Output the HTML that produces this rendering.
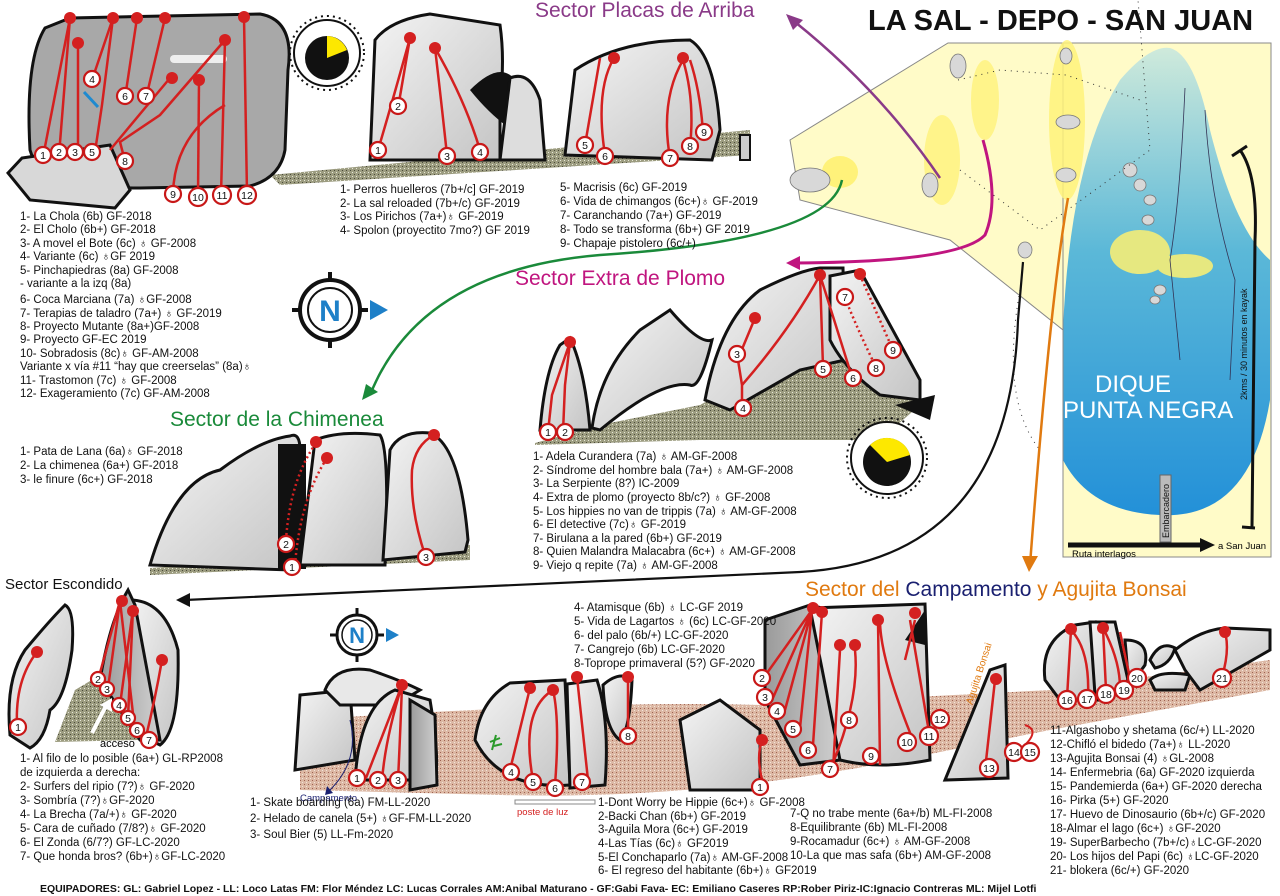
<!DOCTYPE html>
<html><head><meta charset="utf-8"><style>
html,body{margin:0;padding:0;background:#fff}
svg{display:block}
text{font-family:"Liberation Sans",sans-serif}
.t{font-size:11.5px;fill:#111}
.n{font-size:10.5px;fill:#111;text-anchor:middle}
.rt{fill:none;stroke:#d42020;stroke-width:2.5}
.dt{fill:none;stroke:#d42020;stroke-width:2.5;stroke-dasharray:2 3}
.rk{fill:url(#g);stroke:#111;stroke-width:3}
.rd{fill:url(#g2);stroke:#111;stroke-width:3}
.nc{fill:#fff;stroke:#c81818;stroke-width:2.2}
.dot{fill:#d42020}
</style></head><body>
<svg width="1280" height="896" viewBox="0 0 1280 896" xmlns="http://www.w3.org/2000/svg">
<defs>
<linearGradient id="g" x1="0" y1="0" x2="1" y2="1"><stop offset="0" stop-color="#f4f4f4"/><stop offset="1" stop-color="#c4c4c4"/></linearGradient>
<linearGradient id="g2" x1="0" y1="0" x2="1" y2="0"><stop offset="0" stop-color="#9a9a9a"/><stop offset="1" stop-color="#d0d0d0"/></linearGradient>
<linearGradient id="lake" x1="0" y1="0" x2="0" y2="1"><stop offset="0" stop-color="#cfeadb"/><stop offset="0.4" stop-color="#5bb8d8"/><stop offset="1" stop-color="#1a8ad8"/></linearGradient>
<pattern id="gr" width="4" height="4" patternUnits="userSpaceOnUse"><rect width="4" height="4" fill="#9c9c80"/><rect width="1" height="1" fill="#e8e8d8"/><rect x="2" y="2" width="1" height="1" fill="#4a4a3a"/></pattern>
<pattern id="br" width="4" height="4" patternUnits="userSpaceOnUse"><rect width="4" height="4" fill="#dcb8a4"/><rect width="1" height="1" fill="#a06050"/><rect x="2" y="2" width="1" height="1" fill="#f4e4dc"/></pattern>
</defs>

<!-- MAP -->
<polygon points="790,140 948,43 1271,43 1271,557 1063,557 1063,330 950,240 800,200" fill="#fffbc8" stroke="#888" stroke-width="1"/>
<path d="M1063,557 L1063,330 Q1070,160 1120,80 Q1150,45 1170,48 Q1195,55 1210,130 Q1235,230 1270,260 L1270,400 Q1250,520 1160,515 Q1090,512 1063,460 Z" fill="url(#lake)"/>
<rect x="1063" y="43" width="208" height="514" fill="none" stroke="#888"/>
<ellipse cx="1067" cy="120" rx="18" ry="80" fill="#fff27a" opacity="0.85"/>
<ellipse cx="942" cy="160" rx="18" ry="45" fill="#fff27a" opacity="0.8"/>
<ellipse cx="985" cy="100" rx="14" ry="40" fill="#fff27a" opacity="0.8"/>
<ellipse cx="840" cy="172" rx="18" ry="16" fill="#fff27a"/>
<ellipse cx="1140" cy="252" rx="30" ry="22" fill="#e6e880"/>
<ellipse cx="1185" cy="266" rx="28" ry="12" fill="#e6e880"/>
<g fill="#d8d8d8" stroke="#777" stroke-width="0.8">
<ellipse cx="958" cy="66" rx="8" ry="12"/><ellipse cx="1066" cy="56" rx="6" ry="8"/><ellipse cx="1068" cy="122" rx="12" ry="7"/><ellipse cx="1066" cy="175" rx="10" ry="7"/><ellipse cx="1025" cy="250" rx="7" ry="8"/>
<ellipse cx="1130" cy="170" rx="7" ry="7"/><ellipse cx="1140" cy="185" rx="6" ry="6"/><ellipse cx="1150" cy="200" rx="6" ry="5"/><ellipse cx="1148" cy="220" rx="6" ry="5"/><ellipse cx="1160" cy="290" rx="6" ry="5"/><ellipse cx="1155" cy="300" rx="5" ry="4"/><ellipse cx="810" cy="180" rx="20" ry="12"/><ellipse cx="930" cy="185" rx="8" ry="12"/>
</g>
<path d="M1020,290 Q1000,400 1040,450" fill="none" stroke="#333" stroke-dasharray="1 5"/>
<polyline points="958,80 1000,70 1066,75 1140,100" fill="none" stroke="#333" stroke-dasharray="1 5"/>
<polyline points="960,170 1000,200 1040,230 1150,150 1138,0" fill="none" stroke="#333" stroke-dasharray="1 5"/>
<path d="M1185,88 Q1180,200 1170,260 L1180,360" fill="none" stroke="#335" stroke-width="0.8"/>
<path d="M1205,110 Q1210,200 1235,280 L1230,380" fill="none" stroke="#335" stroke-width="0.8"/>
<text x="1095" y="392" style="font-size:24px;fill:#fff">DIQUE</text>
<text x="1063" y="418" style="font-size:24px;fill:#fff">PUNTA NEGRA</text>
<text transform="translate(1247,400) rotate(-90)" style="font-size:9px;fill:#111">2kms / 30 minutos en kayak</text>
<path d="M1240,150 Q1258,175 1255,240 L1252,527" fill="none" stroke="#111" stroke-width="3"/>
<line x1="1232" y1="156" x2="1247" y2="146" stroke="#111" stroke-width="3"/>
<line x1="1242" y1="527" x2="1255" y2="528" stroke="#111" stroke-width="3"/>
<rect x="1160" y="475" width="11" height="67" fill="#bbb" stroke="#666"/>
<text transform="translate(1169,538) rotate(-90)" style="font-size:9px;fill:#111">Embarcadero</text>
<line x1="1068" y1="545" x2="1205" y2="545" stroke="#111" stroke-width="5"/>
<polygon points="1200,538 1215,545 1200,552" fill="#111"/>
<text x="1218" y="549" style="font-size:9.5px">a San Juan</text>
<text x="1072" y="557" style="font-size:9.5px">Ruta interlagos</text>

<text x="868" y="30" style="font-size:29px;font-weight:bold;fill:#111;letter-spacing:0px">LA SAL - DEPO - SAN JUAN</text>
<text x="535" y="17" style="font-size:21px;fill:#8a3a88">Sector Placas de Arriba</text>
<text x="515" y="285" style="font-size:21px;fill:#c0157f">Sector Extra de Plomo</text>
<text x="170" y="426" style="font-size:21px;fill:#1a8a3a">Sector de la Chimenea</text>
<text x="5" y="589" style="font-size:15px;fill:#111">Sector Escondido</text>
<text x="805" y="596" style="font-size:21px;fill:#e07a10">Sector del <tspan fill="#1a2070">Campamento</tspan> y Agujita Bonsai</text>

<!-- connector arrows -->
<path d="M940,178 Q880,90 795,22" fill="none" stroke="#8a3a88" stroke-width="2.5"/><polygon points="786,14 803,20 793,30" fill="#8a3a88"/>
<path d="M842,180 Q830,240 600,255 Q420,270 370,395" fill="none" stroke="#1a8a3a" stroke-width="2.5"/><polygon points="362,400 366,384 378,392" fill="#1a8a3a"/>
<path d="M983,140 Q1000,200 985,235 Q960,262 795,263" fill="none" stroke="#c0157f" stroke-width="3"/><polygon points="786,263 800,256 800,270" fill="#c0157f"/>
<path d="M1023,262 L1018,320 Q1010,560 800,572 Q400,590 185,600" fill="none" stroke="#111" stroke-width="2.2"/><polygon points="176,600 190,593 190,607" fill="#111"/>
<path d="M1068,198 Q1050,300 1030,565" fill="none" stroke="#e07a10" stroke-width="2.5"/><polygon points="1022,556 1038,556 1029,572" fill="#e07a10"/>

<!-- TOP LEFT rock -->
<polygon points="270,175 750,130 750,155 280,185" fill="url(#gr)"/>
<path class="rk" d="M45,28 L70,18 L260,14 Q295,20 288,70 L285,150 Q280,178 250,186 L140,188 Q40,188 30,150 Q25,60 45,28Z" style="fill:#a8a8a8"/>
<polygon class="rk" points="8,173 22,158 110,145 130,190 115,208 30,200" style="fill:#d8d8d8"/>
<rect x="170" y="55" width="57" height="8" rx="4" fill="#eee"/>
<g class="rt"><path d="M43,157 L70,18"/><path d="M59,155 L70,18"/><path d="M78,155 L78,43"/><path d="M95,152 L102,105 L113,18"/><path d="M92,80 L113,18"/><path d="M125,98 L137,18"/><path d="M146,98 L165,18"/><path d="M110,150 L170,78"/><path d="M125,161 L120,142 L160,115 L225,40"/><path d="M173,193 Q175,135 225,105"/><path d="M198,196 L199,80"/><path d="M221,195 L225,40"/><path d="M247,194 L244,17"/></g>
<g class="dot"><circle cx="70" cy="18" r="6"/><circle cx="78" cy="43" r="6"/><circle cx="113" cy="18" r="6"/><circle cx="137" cy="18" r="6"/><circle cx="165" cy="18" r="6"/><circle cx="172" cy="78" r="6"/><circle cx="199" cy="80" r="6"/><circle cx="225" cy="40" r="6"/><circle cx="244" cy="17" r="6"/></g>
<line x1="98" y1="107" x2="84" y2="92" stroke="#1e8ad0" stroke-width="3"/>
<g><circle class="nc" cx="43" cy="155" r="8"/><text class="n" x="43" y="159">1</text>
<circle class="nc" cx="59" cy="152" r="8"/><text class="n" x="59" y="156">2</text>
<circle class="nc" cx="75" cy="152" r="8"/><text class="n" x="75" y="156">3</text>
<circle class="nc" cx="92" cy="79" r="8"/><text class="n" x="92" y="83">4</text>
<circle class="nc" cx="92" cy="152" r="8"/><text class="n" x="92" y="156">5</text>
<circle class="nc" cx="125" cy="96" r="8"/><text class="n" x="125" y="100">6</text>
<circle class="nc" cx="146" cy="96" r="8"/><text class="n" x="146" y="100">7</text>
<circle class="nc" cx="125" cy="161" r="8"/><text class="n" x="125" y="165">8</text>
<circle class="nc" cx="173" cy="194" r="8"/><text class="n" x="173" y="198">9</text>
<circle class="nc" cx="198" cy="197" r="9"/><text class="n" x="198" y="201">10</text>
<circle class="nc" cx="222" cy="195" r="9"/><text class="n" x="222" y="199">11</text>
<circle class="nc" cx="247" cy="195" r="9"/><text class="n" x="247" y="199">12</text></g>

<!-- clock 1 -->
<circle cx="327" cy="53" r="37" fill="none" stroke="#111" stroke-width="2" stroke-dasharray="2 4"/>
<circle cx="327" cy="53" r="33" fill="#fff" stroke="#111" stroke-width="2"/>
<circle cx="327" cy="58" r="22" fill="#111"/>
<path d="M327,58 L327,36 A22,22 0 0,1 347,50 Z" fill="#fde800"/>

<!-- top middle rocks -->
<path class="rk" d="M370,160 L375,40 Q390,20 430,14 L500,25 Q505,60 500,100 L500,160 Z"/>
<path d="M470,90 Q500,60 515,80 L512,130 Q490,115 470,90Z" fill="#111"/>
<path class="rk" d="M500,160 L510,78 Q530,70 540,100 L545,160Z" style="fill:#ddd"/>
<path class="rk" d="M565,155 L575,70 Q620,40 690,40 Q715,55 720,130 L712,160 Z"/>
<rect x="740" y="135" width="10" height="25" fill="#ccc" stroke="#111" stroke-width="2"/>
<g class="rt"><path d="M378,150 Q390,110 410,38"/><path d="M398,108 L410,38"/><path d="M447,155 Q440,90 435,48"/><path d="M480,150 Q465,100 435,48"/><path d="M585,145 L600,58"/><path d="M605,155 Q595,90 614,58"/><path d="M670,158 Q660,100 683,60"/><path d="M690,147 Q695,100 683,60"/><path d="M703,132 Q700,90 690,60"/></g>
<g class="dot"><circle cx="410" cy="38" r="6"/><circle cx="435" cy="48" r="6"/><circle cx="614" cy="58" r="6"/><circle cx="683" cy="58" r="6"/></g>
<circle class="nc" cx="378" cy="150" r="8"/><text class="n" x="378" y="154">1</text>
<circle class="nc" cx="398" cy="106" r="8"/><text class="n" x="398" y="110">2</text>
<circle class="nc" cx="447" cy="156" r="8"/><text class="n" x="447" y="160">3</text>
<circle class="nc" cx="480" cy="152" r="8"/><text class="n" x="480" y="156">4</text>
<circle class="nc" cx="585" cy="145" r="8"/><text class="n" x="585" y="149">5</text>
<circle class="nc" cx="605" cy="156" r="8"/><text class="n" x="605" y="160">6</text>
<circle class="nc" cx="670" cy="158" r="8"/><text class="n" x="670" y="162">7</text>
<circle class="nc" cx="690" cy="146" r="8"/><text class="n" x="690" y="150">8</text>
<circle class="nc" cx="704" cy="132" r="8"/><text class="n" x="704" y="136">9</text>

<!-- top texts -->
<g class="t">
<text x="20" y="220">1- La Chola (6b) GF-2018</text>
<text x="20" y="233">2- El Cholo (6b+) GF-2018</text>
<text x="20" y="247">3- A movel el Bote (6c) ♁    GF-2008</text>
<text x="20" y="260">4- Variante (6c) ♁GF 2019</text>
<text x="20" y="274">5- Pinchapiedras (8a) GF-2008</text>
<text x="20" y="287">-    variante a la izq (8a)</text>
<text x="20" y="303">6- Coca Marciana (7a) ♁GF-2008</text>
<text x="20" y="317">7- Terapias de taladro (7a+) ♁ GF-2019</text>
<text x="20" y="330">8- Proyecto Mutante (8a+)GF-2008</text>
<text x="20" y="343">9- Proyecto GF-EC 2019</text>
<text x="20" y="357">10- Sobradosis (8c)♁    GF-AM-2008</text>
<text x="20" y="370">Variante x vía #11 “hay que creerselas” (8a)♁</text>
<text x="20" y="384">11- Trastomon (7c) ♁    GF-2008</text>
<text x="20" y="397">12- Exageramiento (7c) GF-AM-2008</text>
<text x="340" y="193">1- Perros huelleros (7b+/c] GF-2019</text>
<text x="340" y="207">2- La sal reloaded (7b+/c) GF-2019</text>
<text x="340" y="220">3- Los Pirichos (7a+)♁ GF-2019</text>
<text x="340" y="234">4- Spolon (proyectito 7mo?) GF 2019</text>
<text x="560" y="191">5- Macrisis (6c) GF-2019</text>
<text x="560" y="205">6- Vida de chimangos (6c+)♁ GF-2019</text>
<text x="560" y="219">7- Caranchando (7a+) GF-2019</text>
<text x="560" y="233">8- Todo se transforma  (6b+) GF 2019</text>
<text x="560" y="247">9- Chapaje pistolero (6c/+)</text>
<text x="20" y="455">1- Pata de Lana (6a)♁ GF-2018</text>
<text x="20" y="469">2- La chimenea (6a+) GF-2018</text>
<text x="20" y="483">3- le finure (6c+) GF-2018</text>
</g>

<!-- compass -->
<g transform="translate(330,310)">
<line x1="-38" y1="0" x2="38" y2="0" stroke="#111" stroke-width="4"/><line x1="0" y1="-38" x2="0" y2="38" stroke="#111" stroke-width="4"/>
<circle r="30" fill="#fff" stroke="#111" stroke-width="4"/><circle r="22" fill="#fff" stroke="#111" stroke-width="2"/>
<text x="0" y="11" style="font-size:30px;font-weight:bold;fill:#1e80c8;text-anchor:middle">N</text>
<polygon points="40,-10 58,0 40,10" fill="#1e80c8"/></g>

<!-- Chimenea rock -->
<polygon points="150,568 470,545 470,560 150,575" fill="url(#gr)"/>
<path class="rk" d="M150,565 Q175,480 220,470 Q260,440 290,436 Q300,432 300,450 L290,570Z" />
<rect x="278" y="444" width="28" height="125" fill="#111"/>
<path class="rk" d="M300,565 L315,440 Q340,430 380,435 Q390,450 385,565Z"/>
<path class="rk" d="M383,560 L390,450 Q400,430 430,433 Q460,445 468,540 L465,552Z"/>
<g class="dt"><path d="M286,540 Q290,480 316,443"/><path d="M295,565 Q300,500 327,458"/></g>
<path class="rt" d="M425,555 Q410,510 412,470 Q415,445 434,435"/>
<g class="dot"><circle cx="316" cy="442" r="6"/><circle cx="327" cy="458" r="6"/><circle cx="434" cy="435" r="6"/></g>
<circle class="nc" cx="286" cy="544" r="8"/><text class="n" x="286" y="548">2</text>
<circle class="nc" cx="292" cy="567" r="8"/><text class="n" x="292" y="571">1</text>
<circle class="nc" cx="426" cy="557" r="8"/><text class="n" x="426" y="561">3</text>

<!-- Extra de plomo -->
<polygon points="535,443 600,425 700,405 800,350 880,355 920,405 880,440 700,440 535,445" fill="url(#gr)"/>
<path class="rk" d="M540,430 Q545,370 560,345 L570,338 Q585,370 590,430Z"/>
<path class="rk" d="M592,428 Q600,370 640,330 L670,310 Q700,345 712,340 Q700,390 690,385 Q660,380 600,430Z"/>
<path class="rk" d="M705,400 Q720,320 760,290 Q800,270 820,268 L843,268 L845,360 L800,370 L730,410Z"/>
<path class="rk" d="M830,276 L860,270 L920,380 L920,400 L880,395 Q845,370 830,340Z"/>
<path d="M895,405 L935,395 L930,420 Z" fill="#111"/>
<g class="rt"><path d="M548,432 L552,395 L570,342"/><path d="M563,432 L565,385 L570,342"/><path d="M740,354 L755,318"/><path d="M742,407 L742,385 L738,360"/><path d="M742,385 Q790,330 820,275"/><path d="M823,367 L820,275"/><path d="M852,377 L820,275"/></g>
<g class="dt"><path d="M845,298 Q860,335 876,367"/><path d="M860,275 L893,350"/></g>
<g class="dot"><circle cx="570" cy="342" r="6"/><circle cx="755" cy="318" r="6"/><circle cx="820" cy="275" r="6"/><circle cx="860" cy="274" r="6"/></g>
<circle class="nc" cx="548" cy="432" r="8"/><text class="n" x="548" y="436">1</text>
<circle class="nc" cx="565" cy="432" r="8"/><text class="n" x="565" y="436">2</text>
<circle class="nc" cx="737" cy="354" r="8"/><text class="n" x="737" y="358">3</text>
<circle class="nc" cx="743" cy="408" r="8"/><text class="n" x="743" y="412">4</text>
<circle class="nc" cx="823" cy="369" r="8"/><text class="n" x="823" y="373">5</text>
<circle class="nc" cx="853" cy="378" r="8"/><text class="n" x="853" y="382">6</text>
<circle class="nc" cx="845" cy="297" r="8"/><text class="n" x="845" y="301">7</text>
<circle class="nc" cx="876" cy="368" r="8"/><text class="n" x="876" y="372">8</text>
<circle class="nc" cx="893" cy="350" r="8"/><text class="n" x="893" y="354">9</text>

<!-- clock 2 -->
<circle cx="887" cy="458" r="40" fill="none" stroke="#111" stroke-width="2" stroke-dasharray="2 4"/>
<circle cx="887" cy="458" r="36" fill="#fff" stroke="#111" stroke-width="2"/>
<circle cx="887" cy="462" r="24" fill="#111"/>
<path d="M887,462 L870,445 A24,24 0 0,1 910,455 Z" fill="#fde800"/>

<g class="t">
<text x="533" y="460">1- Adela Curandera (7a) ♁     AM-GF-2008</text>
<text x="533" y="474">2- Síndrome del hombre bala (7a+) ♁     AM-GF-2008</text>
<text x="533" y="487">3- La Serpiente (8?) IC-2009</text>
<text x="533" y="501">4- Extra de plomo (proyecto 8b/c?) ♁     GF-2008</text>
<text x="533" y="515">5- Los hippies no van de trippis (7a) ♁     AM-GF-2008</text>
<text x="533" y="528">6- El detective (7c)♁ GF-2019</text>
<text x="533" y="542">7- Birulana a la pared (6b+) GF-2019</text>
<text x="533" y="555">8- Quien Malandra Malacabra (6c+) ♁     AM-GF-2008</text>
<text x="533" y="569">9- Viejo q repite (7a) ♁     AM-GF-2008</text>
</g>

<!-- Escondido -->
<path class="rk" d="M10,735 Q5,680 25,650 Q50,620 65,605 Q75,610 72,650 Q65,700 50,710 Q45,740 30,748Z"/>
<path class="rk" d="M130,600 Q165,600 178,650 Q180,730 160,745 L150,740 L130,620Z"/>
<path d="M55,742 L75,690 L100,675 L140,740 Z" fill="url(#gr)"/>
<path class="rd" d="M100,680 Q110,620 128,590 L135,605 L160,740 L140,740Z"/>
<g class="rt"><path d="M17,725 Q15,680 37,652"/><path d="M98,680 L120,601"/><path d="M108,688 L120,601"/><path d="M120,705 L133,609"/><path d="M128,717 L133,609"/><path d="M135,731 L120,601"/><path d="M145,741 Q155,700 162,660"/></g>
<g class="dot"><circle cx="37" cy="652" r="6"/><circle cx="122" cy="601" r="6"/><circle cx="133" cy="611" r="6"/><circle cx="162" cy="660" r="6"/></g>
<path d="M92,733 L106,706" stroke="#fff" stroke-width="4"/><polygon points="100,705 112,698 112,712" fill="#fff"/>
<text x="100" y="747" style="font-size:11px">acceso</text>
<circle class="nc" cx="18" cy="727" r="8"/><text class="n" x="18" y="731">1</text>
<circle class="nc" cx="98" cy="679" r="7"/><text class="n" x="98" y="683">2</text>
<circle class="nc" cx="107" cy="689" r="7"/><text class="n" x="107" y="693">3</text>
<circle class="nc" cx="119" cy="705" r="7"/><text class="n" x="119" y="709">4</text>
<circle class="nc" cx="128" cy="718" r="7"/><text class="n" x="128" y="722">5</text>
<circle class="nc" cx="137" cy="730" r="7"/><text class="n" x="137" y="734">6</text>
<circle class="nc" cx="149" cy="740" r="8"/><text class="n" x="149" y="744">7</text>
<g class="t">
<text x="20" y="762">1- Al filo de lo posible (6a+) GL-RP2008</text>
<text x="20" y="776">de izquierda a derecha:</text>
<text x="20" y="790">2- Surfers del ripio (7?)♁ GF-2020</text>
<text x="20" y="804">3- Sombría (7?)♁GF-2020</text>
<text x="20" y="818">4- La Brecha (7a/+)♁ GF-2020</text>
<text x="20" y="832">5- Cara de cuñado (7/8?)♁    GF-2020</text>
<text x="20" y="846">6- El Zonda (6/7?) GF-LC-2020</text>
<text x="20" y="860">7- Que honda bros? (6b+)♁GF-LC-2020</text>
</g>

<!-- small compass -->
<g transform="translate(357,635)">
<line x1="-27" y1="0" x2="27" y2="0" stroke="#111" stroke-width="3"/><line x1="0" y1="-27" x2="0" y2="27" stroke="#111" stroke-width="3"/>
<circle r="20" fill="#fff" stroke="#111" stroke-width="3"/><circle r="15" fill="#fff" stroke="#111" stroke-width="1.5"/>
<text x="0" y="8" style="font-size:22px;font-weight:bold;fill:#1e80c8;text-anchor:middle">N</text>
<polygon points="29,-7 42,0 29,7" fill="#1e80c8"/></g>

<!-- Campamento ground -->
<path d="M300,790 L300,720 Q600,700 760,705 L1050,690 L1270,660 L1270,690 L1050,730 L900,760 Q700,800 500,795Z" fill="url(#br)"/>
<path class="rk" d="M295,770 L300,695 L350,690 L355,760Z"/>
<path class="rk" d="M325,690 Q335,665 370,670 Q400,680 420,690 L395,705 L340,705Z" style="fill:#e8e8e8"/>
<path class="rk" d="M355,780 Q360,705 395,690 L430,700 Q440,760 435,780Z"/>
<path class="rd" d="M410,700 L435,715 L437,785 L410,790Z"/>
<path class="rk" d="M475,740 Q480,700 510,683 L565,680 L570,785 Q500,790 475,740Z"/>
<path class="rk" d="M567,684 L597,680 Q610,720 605,785 L570,788Z"/>
<path class="rk" d="M603,685 Q620,670 632,680 Q630,730 620,740 Q605,730 603,685Z"/>
<path class="rt" d="M366,778 L402,685 M382,781 Q385,740 402,685 M398,780 Q400,740 402,685 M510,770 L530,688 M533,780 Q520,710 553,690 M555,785 Q560,720 553,690 M588,780 L577,677 M628,735 L628,677"/>
<g class="dot"><circle cx="402" cy="685" r="6"/><circle cx="530" cy="688" r="6"/><circle cx="553" cy="690" r="6"/><circle cx="577" cy="677" r="6"/><circle cx="628" cy="677" r="6"/></g>
<path d="M350,720 Q360,760 330,790" fill="none" stroke="#1a2070" stroke-width="1"/><polygon points="327,786 333,793 325,795" fill="#1a2070"/>
<text x="300" y="801" style="font-size:9.5px;fill:#1a2070">Campamento</text>
<path d="M492,750 L496,735 M490,742 L500,738 M494,746 L502,744" stroke="#2a9a2a" stroke-width="2"/>
<circle class="nc" cx="357" cy="778" r="8"/><text class="n" x="357" y="782">1</text>
<circle class="nc" cx="378" cy="780" r="8"/><text class="n" x="378" y="784">2</text>
<circle class="nc" cx="398" cy="780" r="8"/><text class="n" x="398" y="784">3</text>
<circle class="nc" cx="511" cy="772" r="8"/><text class="n" x="511" y="776">4</text>
<circle class="nc" cx="533" cy="782" r="8"/><text class="n" x="533" y="786">5</text>
<circle class="nc" cx="555" cy="788" r="8"/><text class="n" x="555" y="792">6</text>
<circle class="nc" cx="582" cy="782" r="8"/><text class="n" x="582" y="786">7</text>
<circle class="nc" cx="628" cy="736" r="8"/><text class="n" x="628" y="740">8</text>
<rect x="515" y="800" width="80" height="4" fill="#fff" stroke="#888"/>
<text x="517" y="815" style="font-size:9.5px;fill:#d42020">poste de luz</text>

<path class="rk" d="M680,720 L720,700 L760,730 L760,790 L690,790Z"/>
<path class="rd" d="M765,620 L810,605 L830,610 L840,760 L800,765 L765,700Z"/>
<path class="rk" d="M810,608 L925,604 L930,760 Q880,770 840,760 Z"/>
<path d="M905,640 L925,610 L925,645Z" fill="#111"/>
<path class="rt" d="M765,790 Q755,760 762,740 M762,680 L812,610 M772,700 L812,610 M785,710 L812,610 M800,728 L812,610 M813,745 L822,612 M833,770 L840,650 M830,770 Q860,700 855,650 M880,765 L878,620 M915,745 Q880,660 880,620 M930,738 L910,620 M915,620 L905,660"/>
<g class="dot"><circle cx="762" cy="740" r="6"/><circle cx="813" cy="608" r="6"/><circle cx="822" cy="612" r="6"/><circle cx="840" cy="645" r="6"/><circle cx="855" cy="645" r="6"/><circle cx="878" cy="620" r="6"/><circle cx="915" cy="613" r="6"/></g>
<circle class="nc" cx="760" cy="787" r="8"/><text class="n" x="760" y="791">1</text>
<circle class="nc" cx="762" cy="678" r="8"/><text class="n" x="762" y="682">2</text>
<circle class="nc" cx="765" cy="697" r="8"/><text class="n" x="765" y="701">3</text>
<circle class="nc" cx="777" cy="711" r="8"/><text class="n" x="777" y="715">4</text>
<circle class="nc" cx="793" cy="729" r="8"/><text class="n" x="793" y="733">5</text>
<circle class="nc" cx="808" cy="750" r="8"/><text class="n" x="808" y="754">6</text>
<circle class="nc" cx="830" cy="769" r="8"/><text class="n" x="830" y="773">7</text>
<circle class="nc" cx="849" cy="720" r="8"/><text class="n" x="849" y="724">8</text>
<circle class="nc" cx="871" cy="756" r="8"/><text class="n" x="871" y="760">9</text>
<circle class="nc" cx="907" cy="742" r="9"/><text class="n" x="907" y="746">10</text>
<circle class="nc" cx="929" cy="736" r="9"/><text class="n" x="929" y="740">11</text>
<circle class="nc" cx="940" cy="719" r="9"/><text class="n" x="940" y="723">12</text>

<path class="rk" d="M945,780 L990,670 L1005,665 L1008,778Z"/>
<path class="rt" d="M985,770 L995,680"/><circle class="dot" cx="996" cy="679" r="6"/>
<text transform="translate(972,705) rotate(-72)" style="font-size:10px;fill:#e07a10">Agujita Bonsai</text>
<path d="M1025,725 Q1040,730 1025,745" fill="none" stroke="#d42020" stroke-width="2"/>
<circle class="nc" cx="989" cy="768" r="9"/><text class="n" x="989" y="772">13</text>
<circle class="nc" cx="1014" cy="752" r="9"/><text class="n" x="1014" y="756">14</text>
<circle class="nc" cx="1030" cy="752" r="9"/><text class="n" x="1030" y="756">15</text>

<path class="rk" d="M1045,680 Q1040,640 1075,625 L1095,622 L1100,700 L1060,700Z"/>
<path class="rk" d="M1090,622 L1115,622 L1128,680 L1110,695 L1095,695Z"/>
<path class="rk" d="M1125,640 Q1150,640 1145,665 Q1135,680 1128,675Z"/>
<path class="rk" d="M1150,660 Q1160,640 1175,648 Q1170,665 1155,668Z"/>
<path class="rk" d="M1150,680 Q1160,670 1190,675 L1185,690 L1155,690Z"/>
<path class="rk" d="M1175,650 Q1200,630 1225,628 L1270,630 L1270,650 L1200,690 L1185,670Z"/>
<path class="rt" d="M1067,698 L1071,630 M1088,697 Q1090,650 1071,630 M1106,690 L1103,628 M1120,688 Q1120,660 1103,628 M1130,678 L1120,632 M1222,677 Q1230,650 1225,632"/>
<g class="dot"><circle cx="1071" cy="629" r="6"/><circle cx="1103" cy="628" r="6"/><circle cx="1225" cy="632" r="6"/></g>
<circle class="nc" cx="1067" cy="700" r="9"/><text class="n" x="1067" y="704">16</text>
<circle class="nc" cx="1087" cy="699" r="9"/><text class="n" x="1087" y="703">17</text>
<circle class="nc" cx="1106" cy="694" r="9"/><text class="n" x="1106" y="698">18</text>
<circle class="nc" cx="1124" cy="690" r="9"/><text class="n" x="1124" y="694">19</text>
<circle class="nc" cx="1137" cy="678" r="9"/><text class="n" x="1137" y="682">20</text>
<circle class="nc" cx="1222" cy="678" r="9"/><text class="n" x="1222" y="682">21</text>

<g class="t">
<text x="574" y="611">4- Atamisque (6b) ♁ LC-GF 2019</text>
<text x="574" y="625">5- Vida de Lagartos ♁ (6c) LC-GF-2020</text>
<text x="574" y="639">6- del palo (6b/+) LC-GF-2020</text>
<text x="574" y="653">7- Cangrejo (6b) LC-GF-2020</text>
<text x="574" y="667">8-Toprope primaveral (5?) GF-2020</text>
<text x="250" y="806">1- Skate boarding (6a) FM-LL-2020</text>
<text x="250" y="822">2- Helado de canela (5+) ♁GF-FM-LL-2020</text>
<text x="250" y="838">3- Soul Bier (5) LL-Fm-2020</text>
<text x="598" y="806">1-Dont Worry be Hippie (6c+)♁ GF-2008</text>
<text x="598" y="820">2-Backi Chan (6b+) GF-2019</text>
<text x="598" y="833">3-Aguila Mora (6c+) GF-2019</text>
<text x="598" y="847">4-Las Tías (6c)♁ GF2019</text>
<text x="598" y="861">5-El Conchaparlo (7a)♁ AM-GF-2008</text>
<text x="598" y="874">6- El regreso del habitante (6b+)♁ GF2019</text>
<text x="790" y="817">7-Q no trabe  mente (6a+/b) ML-FI-2008</text>
<text x="790" y="831">8-Equilibrante (6b) ML-FI-2008</text>
<text x="790" y="845">9-Rocamadur (6c+) ♁     AM-GF-2008</text>
<text x="790" y="859">10-La que mas safa (6b+) AM-GF-2008</text>
<text x="1050" y="734">11-Algashobo y shetama (6c/+) LL-2020</text>
<text x="1050" y="748">12-Chifló el bidedo (7a+)♁ LL-2020</text>
<text x="1050" y="762">13-Agujita Bonsai (4) ♁GL-2008</text>
<text x="1050" y="776">14- Enfermebria (6a) GF-2020 izquierda</text>
<text x="1050" y="790">15- Pandemierda (6a+) GF-2020 derecha</text>
<text x="1050" y="804">16- Pirka (5+) GF-2020</text>
<text x="1050" y="818">17- Huevo de Dinosaurio (6b+/c) GF-2020</text>
<text x="1050" y="832">18-Almar el lago (6c+) ♁GF-2020</text>
<text x="1050" y="846">19- SuperBarbecho (7b+/c)♁LC-GF-2020</text>
<text x="1050" y="860">20- Los hijos del Papi (6c) ♁LC-GF-2020</text>
<text x="1050" y="874">21- blokera (6c/+) GF-2020</text>
</g>
<text x="40" y="892" style="font-size:10.5px;font-weight:bold;fill:#111">EQUIPADORES: GL: Gabriel Lopez - LL: Loco Latas FM: Flor Méndez LC: Lucas Corrales AM:Anibal Maturano - GF:Gabi Fava- EC: Emiliano Caseres RP:Rober Piriz-IC:Ignacio Contreras ML: Mijel Lotfi</text>
</svg>
</body></html>
